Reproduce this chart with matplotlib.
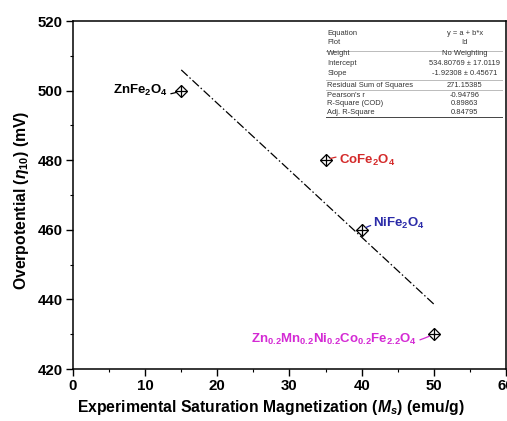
import matplotlib
matplotlib.use('Agg')
import matplotlib.pyplot as plt
from matplotlib.ticker import MultipleLocator
import numpy as np

plt.rcParams['font.family'] = ['Liberation Sans', 'DejaVu Sans']
plt.rcParams['mathtext.fontset'] = 'custom'
plt.rcParams['mathtext.rm'] = 'Liberation Sans:bold'
plt.rcParams['mathtext.bf'] = 'Liberation Sans:bold'
plt.rcParams['mathtext.it'] = 'Liberation Sans:bold:italic'

# data
ms = [15, 35, 40, 50]
eta = [500, 480, 460, 430]
names = [r'ZnFe$_{2}$O$_{4}$', r'CoFe$_{2}$O$_{4}$', r'NiFe$_{2}$O$_{4}$',
         r'Zn$_{0.2}$Mn$_{0.2}$Ni$_{0.2}$Co$_{0.2}$Fe$_{2.2}$O$_{4}$']
colors = ['black', '#d42a2a', '#2b2ba8', '#d42ad4']
# label offsets (points) and alignment
offsets = [(-9.5, 0), (9.5, 0), (8.5, 4.3), (-12.0, -4)]
aligns = ['right', 'left', 'left', 'right']

fig = plt.figure(figsize=(5.07, 4.21), dpi=100)
ax = fig.add_axes([0.144, 0.1235, 0.854, 0.8265])

# linear fit
x = np.array(ms, dtype=float)
y = np.array(eta, dtype=float)
slope, intercept = np.polyfit(x, y, 1)
xf = np.array([x.min(), x.max()])
ax.plot(xf, intercept + slope * xf, color='black', lw=0.9, linestyle=(0, (7, 2, 1.2, 2)))

ax.plot(ms, eta, linestyle='none', marker='D', ms=6.5, mfc='white', mec='black', mew=0.9, zorder=3)
ax.plot(ms, eta, linestyle='none', marker='+', ms=9.2, mec='black', mew=0.9, zorder=4)

for i in range(len(ms)):
    ax.annotate(names[i], xy=(ms[i], eta[i]), xytext=offsets[i], textcoords='offset points',
                ha=aligns[i], va='center', color=colors[i], fontsize=9.5, fontweight='bold',
                arrowprops=dict(arrowstyle='-', color=colors[i], lw=0.9, shrinkA=0, shrinkB=3.6,
                                connectionstyle='arc3,rad=0.2'))

# fit statistics table
n = len(x)
res = y - (intercept + slope * x)
rss = np.sum(res ** 2)
sxx = np.sum((x - x.mean()) ** 2)
mse = rss / (n - 2)
se_b = np.sqrt(mse / sxx)
se_a = np.sqrt(mse * (1 / n + x.mean() ** 2 / sxx))
r = np.corrcoef(x, y)[0, 1]
r2 = r ** 2
adj = 1 - (1 - r2) * (n - 1) / (n - 2)
rows = [('Equation', 'y = a + b*x'), ('Plot', 'Id'), ('Weight', 'No Weighting'),
        ('Intercept', '%.5f \u00b1 %.4f' % (intercept, se_a)),
        ('Slope', '%.5f \u00b1 %.5f' % (slope, se_b)),
        ('Residual Sum of Squares', '%.5f' % rss),
        ("Pearson's r", '%.5f' % r), ('R-Square (COD)', '%.5f' % r2),
        ('Adj. R-Square', '%.5f' % adj)]
row_px = [33, 42, 53, 63, 73, 85, 95, 103, 112]
tr = ax.transAxes
def fy(p):
    return 1 - (p - 21) / 348.0
for (k, v), p in zip(rows, row_px):
    ax.text(0.587, fy(p), k, transform=tr, fontsize=5.4, color='#333333', va='center', ha='left')
    ax.text(0.905, fy(p), v, transform=tr, fontsize=5.4, color='#333333', va='center', ha='center')
for p, c in [(51, '#bbbbbb'), (80, '#bbbbbb'), (90, '#bbbbbb'), (117, '#444444')]:
    ax.plot([0.585, 0.99], [fy(p), fy(p)], transform=tr, color=c, lw=0.7)

ax.set_xlim(0, 60)
ax.set_ylim(420, 520)
ax.xaxis.set_major_locator(MultipleLocator(10))
ax.xaxis.set_minor_locator(MultipleLocator(5))
ax.yaxis.set_major_locator(MultipleLocator(20))
ax.yaxis.set_minor_locator(MultipleLocator(10))
ax.tick_params(which='major', direction='out', length=5.2, width=1.0, labelsize=10.8, pad=2)
ax.tick_params(which='minor', direction='out', length=2.5, width=0.8)
for lab in ax.get_xticklabels() + ax.get_yticklabels():
    lab.set_fontweight('bold')
for s in ax.spines.values():
    s.set_linewidth(1.1)

ax.set_xlabel(r'Experimental Saturation Magnetization ($M_{s}$) (emu/g)', fontsize=11.3,
              fontweight='bold')
ax.set_ylabel(r'Overpotential ($\eta_{10}$) (mV)', fontsize=11.3, fontweight='bold')
ax.xaxis.set_label_coords(0.457, -0.082)
ax.yaxis.set_label_coords(-0.096, 0.485)

fig.savefig('out.png', dpi=100)
